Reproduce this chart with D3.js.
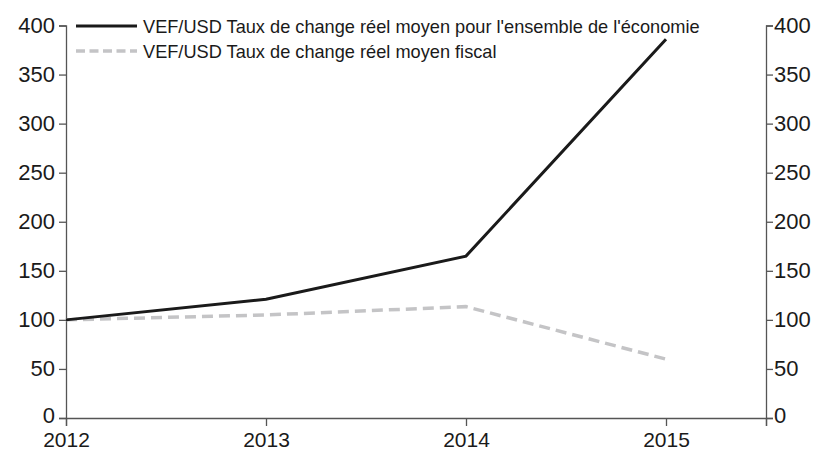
<!DOCTYPE html>
<html>
<head>
<meta charset="utf-8">
<script src="https://cdn.jsdelivr.net/npm/d3@7"></script>
<style>
  body { margin: 0; background: #fff; }
  svg { display: block; font-family: "Liberation Sans", Arial, sans-serif; }
</style>
</head>
<body>
<svg id="chart" width="821" height="452"></svg>
<script>
const years = [2012, 2013, 2014, 2015];
const overall = [100, 121, 165, 386];
const fiscal = [100, 105, 113.5, 60];
const seriesNames = [
  "VEF/USD Taux de change réel moyen pour l'ensemble de l'économie",
  "VEF/USD Taux de change réel moyen fiscal"
];
const yTicks = [0, 50, 100, 150, 200, 250, 300, 350, 400];

const svg = d3.select("#chart");
const plotLeft = 66, plotRight = 766, plotTop = 25.5, plotBottom = 418;
const axisColor = "#555";

const x = d3.scaleLinear().domain([2012, 2015.5]).range([plotLeft, plotRight]);
const y = d3.scaleLinear().domain([0, 400]).range([plotBottom, plotTop]);

// left axis
const yLeft = svg.append("g")
  .attr("transform", `translate(${plotLeft},0)`)
  .call(d3.axisLeft(y).tickValues(yTicks).tickSizeOuter(0).tickSize(7).tickPadding(4));

// right axis
const yRight = svg.append("g")
  .attr("transform", `translate(${plotRight},0)`)
  .call(d3.axisRight(y).tickValues(yTicks).tickSizeOuter(0).tickSize(7).tickPadding(1));

// bottom axis, extra tick at the end
const xAxis = svg.append("g")
  .attr("transform", `translate(0,${plotBottom})`)
  .call(d3.axisBottom(x).tickValues([...years, 2015.5]).tickFormat(d => d % 1 ? "" : d)
    .tickSizeOuter(0).tickSize(8).tickPadding(6));

[yLeft, yRight, xAxis].forEach(g => {
  g.selectAll("path, line").attr("stroke", axisColor).attr("stroke-width", 1.3);
  g.selectAll("text").attr("fill", "#1a1a1a").style("font-size", "22px")
    .style("font-family", "'Liberation Sans', Arial, sans-serif");
});
// the 0 label sits a bit higher so it clears the year labels
yLeft.selectAll("text").attr("dy", d => d === 0 ? "0.2em" : "0.3em");
yRight.selectAll("text").attr("dy", d => d === 0 ? "0.2em" : "0.3em");
xAxis.selectAll("text").attr("dy", "0.71em").style("font-size", "21px");

const line = d3.line().x((d, i) => x(years[i])).y(d => y(d));

svg.append("path")
  .datum(fiscal)
  .attr("d", line)
  .attr("fill", "none")
  .attr("stroke", "#c4c4c6")
  .attr("stroke-width", 3.5)
  .attr("stroke-dasharray", "11,6");

svg.append("path")
  .datum(overall)
  .attr("d", line)
  .attr("fill", "none")
  .attr("stroke", "#1a1a1a")
  .attr("stroke-width", 3);

// legend
const legend = svg.append("g");
const legendStyles = [
  { stroke: "#1a1a1a", dash: null, width: 3 },
  { stroke: "#c4c4c6", dash: "9,4.5", width: 3.5 }
];
seriesNames.forEach((name, i) => {
  const ly = 26 + i * 25;
  legend.append("line")
    .attr("x1", 76).attr("x2", 137)
    .attr("y1", ly).attr("y2", ly)
    .attr("stroke", legendStyles[i].stroke)
    .attr("stroke-width", legendStyles[i].width)
    .attr("stroke-dasharray", legendStyles[i].dash);
  legend.append("text")
    .attr("x", 143).attr("y", ly)
    .attr("dy", "0.38em")
    .attr("fill", "#1a1a1a")
    .style("font-size", "18.2px")
    .text(name);
});
</script>
</body>
</html>
